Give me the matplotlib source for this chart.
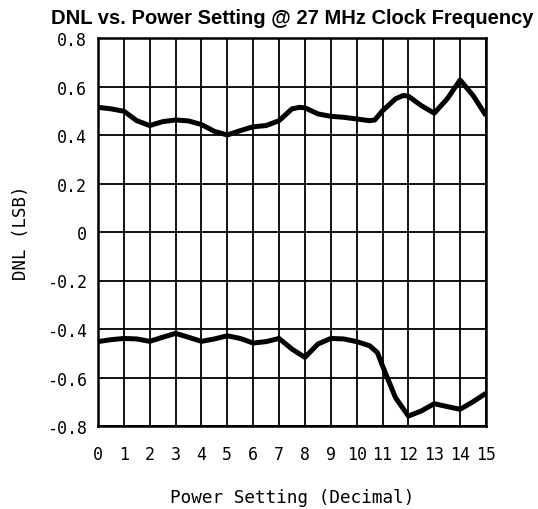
import matplotlib
matplotlib.use("Agg")
import matplotlib.pyplot as plt

title = "DNL vs. Power Setting @ 27 MHz Clock Frequency"
xlabel = "Power Setting (Decimal)"
ylabel = "DNL (LSB)"

x_ticks = list(range(16))
y_ticks = [-0.8, -0.6, -0.4, -0.2, 0.0, 0.2, 0.4, 0.6, 0.8]
y_tick_labels = ["-0.8", "-0.6", "-0.4", "-0.2", "0", "0.2", "0.4", "0.6", "0.8"]

upper_x = [0, 0.5, 1, 1.5, 2, 2.5, 3, 3.5, 4, 4.5, 5, 5.5, 6, 6.5, 7, 7.5, 7.8, 8,
           8.5, 9, 9.5, 10, 10.5, 10.7, 11, 11.5, 11.8, 12, 12.5, 13, 13.5, 14, 14.5, 15]
upper_y = [0.514, 0.508, 0.498, 0.459, 0.439, 0.455, 0.462, 0.458, 0.443, 0.415, 0.400,
           0.418, 0.434, 0.439, 0.459, 0.508, 0.514, 0.512, 0.487, 0.477, 0.473, 0.466,
           0.459, 0.462, 0.500, 0.549, 0.563, 0.560, 0.521, 0.490, 0.549, 0.627, 0.563, 0.480]

lower_x = [0, 0.5, 1, 1.5, 2, 2.5, 3, 3.5, 4, 4.5, 5, 5.5, 6, 6.5, 7, 7.5, 8, 8.5, 9,
           9.5, 10, 10.5, 10.8, 11, 11.5, 12, 12.5, 13, 13.5, 14, 14.5, 15]
lower_y = [-0.452, -0.444, -0.439, -0.441, -0.451, -0.434, -0.418, -0.434, -0.451, -0.441,
           -0.428, -0.439, -0.458, -0.452, -0.439, -0.483, -0.517, -0.462, -0.439, -0.441,
           -0.452, -0.469, -0.497, -0.552, -0.683, -0.759, -0.738, -0.708, -0.720, -0.731,
           -0.700, -0.665]

fig = plt.figure(figsize=(5.38, 5.10), dpi=100)
ax = fig.add_axes([98 / 538, 1 - 427 / 510, (486 - 98) / 538, (427 - 39) / 510])

for xs, ys in [(upper_x, upper_y), (lower_x, lower_y)]:
    ax.plot(xs, ys, color="black", linewidth=3.6, solid_joinstyle="round",
            solid_capstyle="butt", zorder=3)

ax.set_xlim(0, 15)
ax.set_ylim(-0.8, 0.8)
ax.set_xticks(x_ticks)
ax.set_xticklabels([str(v) for v in x_ticks])
ax.set_yticks(y_ticks)
ax.set_yticklabels(y_tick_labels)
ax.grid(True, color="black", linewidth=1.3)
ax.tick_params(length=0, labelsize=12)
ax.tick_params(axis="x", pad=14)
ax.tick_params(axis="y", pad=8)
for lab in ax.get_xticklabels() + ax.get_yticklabels():
    lab.set_family("DejaVu Sans Mono")
for sp in ax.spines.values():
    sp.set_linewidth(1.8)

ax.set_xlabel(xlabel, family="DejaVu Sans Mono", fontsize=12.7, labelpad=18)
ax.set_ylabel(ylabel, family="DejaVu Sans Mono", fontsize=12.5, labelpad=12)
ax.set_title(title, family="Liberation Sans", fontweight="bold", fontsize=14.5, pad=10.5)

fig.savefig("out.png", dpi=100)
